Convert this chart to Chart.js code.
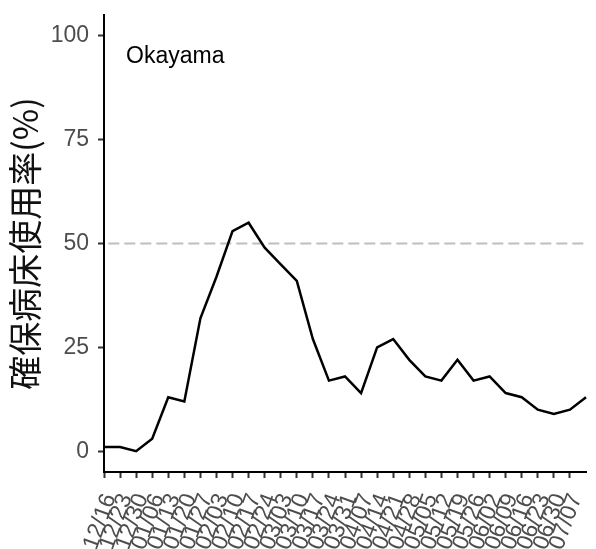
<!DOCTYPE html>
<html>
<head>
<meta charset="utf-8">
<script src="https://cdn.jsdelivr.net/npm/chart.js@4"></script>
<style>
  html, body { margin: 0; padding: 0; background: #fff; }
</style>
</head>
<body>
<canvas id="chart" width="596" height="549"></canvas>
<script>
// weekly tick labels (last data point has no label)
const weekLabels = ['12/16','12/23','12/30','01/06','01/13','01/20','01/27','02/03','02/10','02/17',
  '02/24','03/03','03/10','03/17','03/24','03/31','04/07','04/14','04/21','04/28',
  '05/05','05/12','05/19','05/26','06/02','06/09','06/16','06/23','06/30','07/07'];
const bedUsage = [1, 1, 0, 3, 13, 12, 32, 42, 53, 55, 49, 45, 41, 27, 17, 18, 14, 25, 27, 22,
  18, 17, 22, 17, 18, 14, 13, 10, 9, 10, 13];
const yTicks = [0, 25, 50, 75, 100];
const threshold = 50;
const prefName = 'Okayama';

const categories = bedUsage.map((v, i) => weekLabels[i] || '');

const tickFont = { family: '"Liberation Sans", Arial, sans-serif', size: 23 };

// prefecture name in the top-left of the panel
const labelPlugin = {
  id: 'prefLabel',
  afterDraw(chart) {
    const { ctx, chartArea, scales } = chart;
    ctx.save();
    ctx.font = '23px "Liberation Sans", Arial, sans-serif';
    ctx.fillStyle = '#000';
    ctx.textAlign = 'left';
    ctx.textBaseline = 'middle';
    ctx.fillText(prefName, chartArea.left + 22, scales.y.getPixelForValue(95));
    ctx.restore();
  }
};

new Chart(document.getElementById('chart'), {
  type: 'line',
  data: {
    labels: categories,
    datasets: [
      {
        data: bedUsage,
        borderColor: '#000',
        borderWidth: 2.5,
        pointRadius: 0,
        tension: 0,
        order: 0
      },
      {
        data: categories.map(() => threshold),
        borderColor: '#bebebe',
        borderWidth: 2,
        borderDash: [11, 5],
        borderDashOffset: 11.7,
        pointRadius: 0,
        order: 1
      }
    ]
  },
  options: {
    responsive: false,
    animation: false,
    layout: { padding: { top: 15, right: 10, left: 0, bottom: 0 } },
    plugins: { legend: { display: false }, tooltip: { enabled: false } },
    scales: {
      x: {
        offset: false,
        grid: {
          drawOnChartArea: false,
          drawTicks: true,
          tickLength: 6,
          tickWidth: 2,
          tickColor: ctx => (ctx.index < weekLabels.length ? '#333' : 'rgba(0,0,0,0)')
        },
        border: { display: true, color: '#000', width: 2 },
        ticks: {
          autoSkip: false,
          minRotation: 70,
          maxRotation: 70,
          padding: 12,
          labelOffset: 6,
          color: '#4d4d4d',
          font: tickFont
        },
        afterFit: scale => {
          scale.height = 77;
          scale.paddingLeft = 0;
          scale.paddingRight = 0;
        }
      },
      y: {
        min: -5,
        max: 105,
        afterBuildTicks: scale => { scale.ticks = yTicks.map(v => ({ value: v })); },
        grid: {
          drawOnChartArea: false,
          drawTicks: true,
          tickLength: 6,
          tickWidth: 2,
          tickColor: '#333'
        },
        border: { display: true, color: '#000', width: 2 },
        ticks: { padding: 9, color: '#4d4d4d', font: tickFont },
        title: {
          display: true,
          text: '確保病床使用率(%)',
          color: '#111',
          font: { family: '"Noto Sans CJK JP", sans-serif', size: 34 },
          padding: { top: 5, bottom: 0 }
        },
        afterFit: scale => {
          scale.width = 104;
          scale.paddingTop = 0;
          scale.paddingBottom = 0;
        }
      }
    }
  },
  plugins: [labelPlugin]
});
</script>
</body>
</html>
